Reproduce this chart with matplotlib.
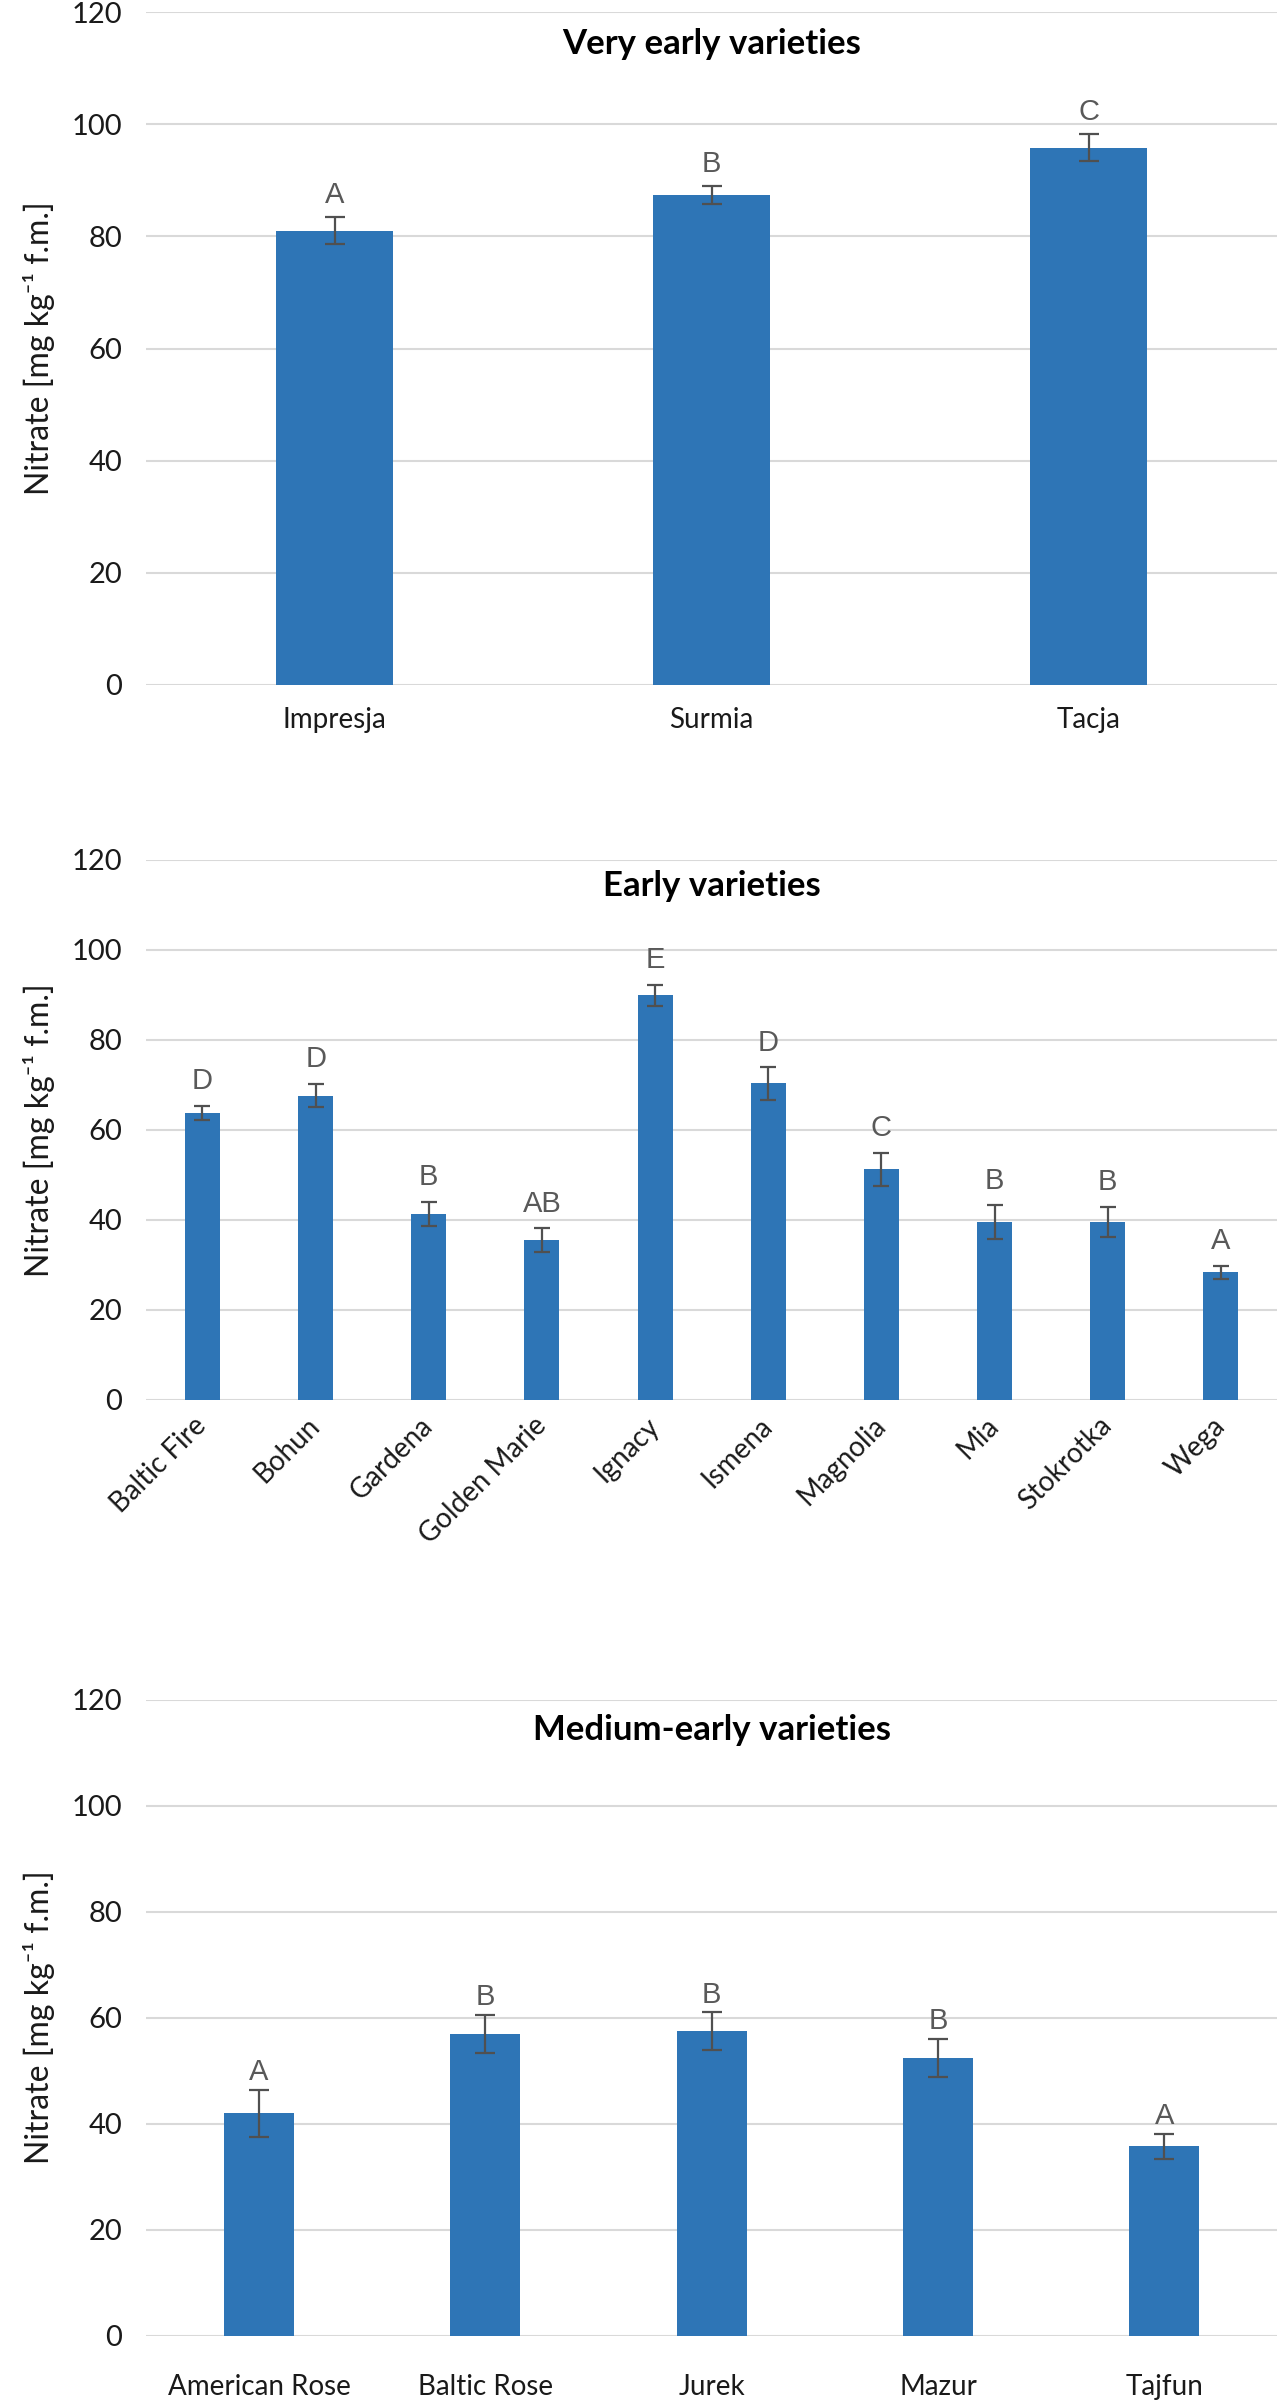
import matplotlib
matplotlib.use("Agg")
import matplotlib.pyplot as plt
import numpy as np

# very early varieties
very_early_names = ['Impresja', 'Surmia', 'Tacja']
very_early_mean = [81.0, 87.4, 95.8]
very_early_err = [2.4, 1.6, 2.4]
very_early_groups = ['A', 'B', 'C']

# early varieties
early_names = ['Baltic Fire', 'Bohun', 'Gardena', 'Golden Marie', 'Ignacy',
               'Ismena', 'Magnolia', 'Mia', 'Stokrotka', 'Wega']
early_mean = [63.7, 67.6, 41.3, 35.5, 89.9, 70.3, 51.2, 39.5, 39.5, 28.3]
early_err = [1.6, 2.6, 2.6, 2.6, 2.3, 3.6, 3.6, 3.7, 3.3, 1.4]
early_groups = ['D', 'D', 'B', 'AB', 'E', 'D', 'C', 'B', 'B', 'A']

# medium-early varieties
medium_names = ['American Rose', 'Baltic Rose', 'Jurek', 'Mazur', 'Tajfun']
medium_mean = [41.9, 56.9, 57.4, 52.4, 35.7]
medium_err = [4.4, 3.6, 3.6, 3.6, 2.3]
medium_groups = ['A', 'B', 'B', 'B', 'A']

y_ticks = [0, 20, 40, 60, 80, 100, 120]

plt.rcParams['font.family'] = ['Lato', 'DejaVu Sans']

BAR_COLOR = '#2E75B6'
GRID_COLOR = '#D9D9D9'
ERR_COLOR = '#505050'
LETTER_COLOR = '#595959'
TEXT_COLOR = '#1A1A1A'


def draw_panel(ax, names, means, errs, groups, title, xpad, letter_off,
               rotate=False, capsize=7):
    x = np.arange(len(names))
    ax.bar(x, means, width=0.31, color=BAR_COLOR, zorder=2)
    ax.errorbar(x, means, yerr=errs, fmt='none', ecolor=ERR_COLOR,
                elinewidth=1.6, capsize=capsize, capthick=1.6, zorder=3)
    for xi, m, e, g in zip(x, means, errs, groups):
        ax.annotate(g, (xi, m + e), xytext=(0, letter_off),
                    textcoords='offset points', ha='center', va='baseline',
                    fontsize=21, color=LETTER_COLOR,
                    family=['Liberation Sans', 'DejaVu Sans'])
    ax.set_xlim(-0.5, len(names) - 0.5)
    ax.set_ylim(0, 120)
    ax.set_yticks(y_ticks)
    ax.yaxis.grid(True, color=GRID_COLOR, linewidth=1.5, zorder=0)
    ax.set_axisbelow(True)
    for s in ax.spines.values():
        s.set_visible(False)
    ax.tick_params(axis='y', length=0, pad=17, labelsize=21,
                   labelcolor=TEXT_COLOR)
    ax.tick_params(axis='x', length=0, pad=xpad, labelsize=20,
                   labelcolor=TEXT_COLOR)
    ax.set_xticks(x)
    if rotate:
        ax.set_xticklabels(names, rotation=45, ha='right',
                           rotation_mode='anchor', va='center')
    else:
        ax.set_xticklabels(names)
    ax.set_ylabel('Nitrate [mg kg\u207b\u00b9 f.m.]', fontsize=23,
                  labelpad=12, color=TEXT_COLOR)
    ax.text(0.5, 0.952, title, transform=ax.transAxes, ha='center',
            va='center', fontsize=25, fontweight='bold')


fig = plt.figure(figsize=(12.8, 24.06), dpi=100)
ax1 = fig.add_axes([0.114, 0.7153, 0.884, 0.2797])
ax2 = fig.add_axes([0.114, 0.4183, 0.884, 0.2243])
ax3 = fig.add_axes([0.114, 0.0293, 0.884, 0.2643])

draw_panel(ax1, very_early_names, very_early_mean, very_early_err,
           very_early_groups, 'Very early varieties', xpad=16, letter_off=10)
draw_panel(ax2, early_names, early_mean, early_err, early_groups,
           'Early varieties', xpad=16, letter_off=12, rotate=True, capsize=6)
draw_panel(ax3, medium_names, medium_mean, medium_err, medium_groups,
           'Medium-early varieties', xpad=28, letter_off=7)

fig.savefig('out.png', dpi=100)
